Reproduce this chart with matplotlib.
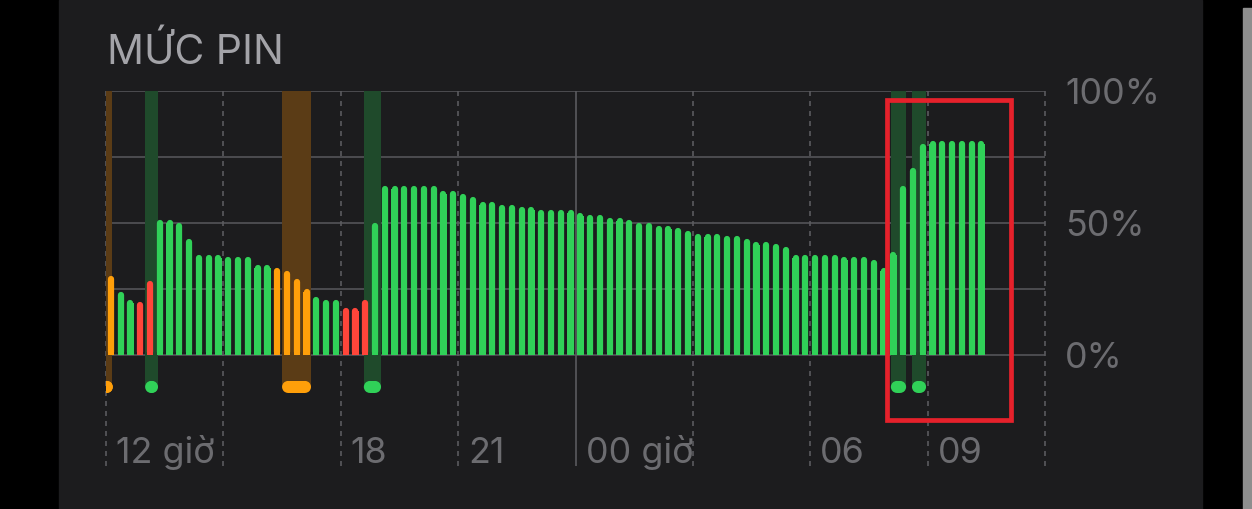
import matplotlib.pyplot as plt
from matplotlib.patches import Rectangle, Ellipse
import numpy as np

plt.rcParams['font.family'] = ['Inter', 'DejaVu Sans']

# mức pin mỗi 15 phút, bắt đầu lúc 12 giờ (%)
levels = [30, 24, 21, 20, 28,
          51, 51, 50, 44, 38, 38, 38, 37, 37, 37, 34, 34,
          33, 32, 29, 25,
          22, 21, 21,
          18, 18, 21,
          50, 64, 64, 64, 64, 64, 64,
          62, 62, 61, 60,
          58, 58, 57, 57, 56, 56, 55, 55, 55, 55,
          54, 53, 53, 52, 52, 51, 50, 50, 49, 49,
          48, 47, 46, 46, 46, 45, 45, 44, 43, 43, 42, 41,
          38, 38, 38, 38, 38, 37, 37, 37, 36, 33,
          39, 64, 71, 80, 81, 81, 81, 81, 81, 81]
# trạng thái: o = chế độ nguồn điện thấp, r = pin yếu, g = bình thường
status_runs = [('o', 1), ('g', 2), ('r', 2), ('g', 12), ('o', 4),
               ('g', 3), ('r', 3), ('g', 63)]

# các khoảng sạc (giờ tính từ 12 giờ)
charge_start = [-0.12, 1.00, 4.50, 6.59, 20.06, 20.60]
charge_end = [0.16, 1.33, 5.24, 7.03, 20.45, 20.96]
charge_kind = ['o', 'g', 'o', 'g', 'g', 'g']

tick_hours = [0, 6, 9, 12, 18, 21]
tick_labels = ['12 giờ', '18', '21', '00 giờ', '06', '09']
pct_ticks = [100, 50, 0]

status = ''.join(k * n for k, n in status_runs)
assert len(status) == len(levels)

colors = {'g': '#30d158', 'o': '#ff9f0a', 'r': '#ff453a'}
band_colors = {'g': '#1f4a2b', 'o': '#5b3c16'}

W, H = 1252, 509
px_h = 939 / 24      # px per hour
px_pct = 2.64        # px per %

fig = plt.figure(figsize=(W / 100, H / 100), dpi=100, facecolor='black')
fig.patches.append(Rectangle((59 / W, 0), (1202 - 59) / W, 1, transform=fig.transFigure,
                             color='#1c1c1e', zorder=-2))
fig.patches.append(Rectangle((1243 / W, 0), 9 / W, (H - 8) / H, transform=fig.transFigure,
                             color='#8e8e8e', zorder=-2))

ax = fig.add_axes([106 / W, 1 - 470 / H, 939 / W, (470 - 91) / H])
ax.set_xlim(0, 24)
ax.set_ylim(-115 / px_pct, 100)
ax.axis('off')

# lưới
ax.hlines([0, 25, 50, 75, 100], 0, 24, color='#505054', lw=1.3, zorder=1)
for h in range(0, 25, 3):
    ls = '-' if h == 12 else (0, (3, 3))
    ax.vlines(h, -42, 100, color='#5a5a5e', lw=1.2, linestyles=ls, zorder=1,
              clip_on=False)

# khoảng sạc + chấm dưới đáy
dot_w = 12 / px_h
dot_h = 12 / px_pct
dot_y = -12.1
for s, e, k in zip(charge_start, charge_end, charge_kind):
    ax.add_patch(Rectangle((s, dot_y), e - s, 100 - dot_y, color=band_colors[k], lw=0, zorder=2))
    mid = (s + e) / 2
    a, b = s + dot_w / 2, e - dot_w / 2
    if b < a:
        a = b = mid
    ax.add_patch(Rectangle((a, dot_y - dot_h / 2), b - a, dot_h, color=colors[k], lw=0, zorder=3))
    for cx in (a, b):
        ax.add_patch(Ellipse((cx, dot_y), dot_w, dot_h, color=colors[k], lw=0, zorder=3))

# cột
x = 0.125 + 0.25 * np.arange(len(levels))
vals = np.array(levels, dtype=float)
bw = 0.16
r = bw * px_h / 2 / px_pct
cols = [colors[c] for c in status]
ax.bar(x, vals - r, width=bw, color=cols, lw=0, zorder=4)
ax.vlines(x, r, vals - r, colors=cols, lw=bw * px_h * 0.72, capstyle='round', zorder=4)

# nhãn
for h, lab in zip(tick_hours, tick_labels):
    ax.text(h + 10 / px_h, -108 / px_pct, lab, fontsize=25.8, color='#6c6c70',
            ha='left', va='baseline')
for p in pct_ticks:
    ax.text(24 + 20 / px_h, p - 4.8, f'{p}%', fontsize=25.8, color='#6c6c70',
            ha='left', va='baseline', clip_on=False)

fig.text(107 / W, 1 - 64 / H, 'MỨC PIN', fontsize=29.5, color='#a3a3a8',
         ha='left', va='baseline')

# khung đỏ đánh dấu
ax.add_patch(Rectangle((19.95, -24.5), 23.14 - 19.95, 96.7 + 24.5, fill=False,
                       ec='#e5212b', lw=3.4, clip_on=False, zorder=6))

fig.savefig('out.png', dpi=100, facecolor='black')
